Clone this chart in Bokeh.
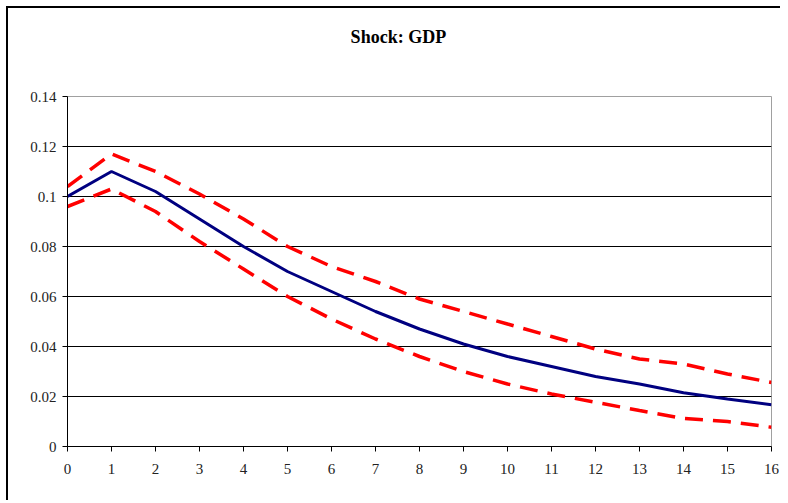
from bokeh.plotting import figure
from bokeh.models import FixedTicker, Range1d, Label
from bokeh.layouts import column
from bokeh.embed import file_html
from bokeh.resources import INLINE

periods = list(range(17))
response = [0.100, 0.110, 0.102, 0.091, 0.080, 0.070, 0.062, 0.054, 0.047,
            0.041, 0.036, 0.032, 0.028, 0.025, 0.0215, 0.019, 0.0167]
upper = [0.104, 0.117, 0.110, 0.101, 0.091, 0.080, 0.072, 0.066, 0.059,
         0.054, 0.049, 0.044, 0.039, 0.035, 0.033, 0.029, 0.0256]
lower = [0.096, 0.103, 0.094, 0.082, 0.071, 0.060, 0.051, 0.043, 0.036,
         0.030, 0.025, 0.021, 0.0177, 0.0144, 0.0112, 0.0100, 0.0077]
y_ticks = [0, 0.02, 0.04, 0.06, 0.08, 0.1, 0.12, 0.14]
y_tick_labels = {0: "0", 0.02: "0.02", 0.04: "0.04", 0.06: "0.06", 0.08: "0.08",
                 0.1: "0.1", 0.12: "0.12", 0.14: "0.14"}
title_text = "Shock: GDP"

FONT = "Liberation Serif"

# Title strip
head = figure(width=772, height=80, min_border=0,
              min_border_left=0, min_border_right=0,
              min_border_top=0, min_border_bottom=0,
              x_range=Range1d(0, 1), y_range=Range1d(0, 1),
              output_backend="svg", toolbar_location=None)
head.axis.visible = False
head.grid.visible = False
head.outline_line_color = None
head.add_layout(Label(x=0.47, y=0.65, text=title_text,
                      text_font=FONT, text_font_size="18px", text_font_style="bold",
                      text_color="black", text_align="center", text_baseline="middle"))

p = figure(frame_width=704, frame_height=350,
           min_border_left=59, min_border_right=9,
           min_border_top=8, min_border_bottom=54,
           x_range=Range1d(0, 16), y_range=Range1d(0, 0.14),
           output_backend="svg", toolbar_location=None)

p.outline_line_color = "#a0a0a0"
p.outline_line_width = 1
p.background_fill_color = "white"
p.border_fill_color = "white"

p.xgrid.visible = False
p.ygrid.ticker = FixedTicker(ticks=[0.02, 0.04, 0.06, 0.08, 0.1, 0.12])
p.ygrid.grid_line_color = "black"
p.ygrid.grid_line_width = 1

p.xaxis.ticker = FixedTicker(ticks=periods)
p.yaxis.ticker = FixedTicker(ticks=y_ticks)
p.yaxis.major_label_overrides = y_tick_labels

for ax in (p.xaxis[0], p.yaxis[0]):
    ax.axis_line_color = "black"
    ax.axis_line_width = 1
    ax.major_tick_line_color = "black"
    ax.major_tick_in = 0
    ax.major_tick_out = 5
    ax.minor_tick_line_color = None
    ax.major_label_text_font = FONT
    ax.major_label_text_font_size = "15px"
    ax.major_label_text_color = "#222222"
p.xaxis.major_label_standoff = 12
p.yaxis.major_label_standoff = 6

p.line(periods, upper, line_color="#ff0000", line_width=3.5, line_dash="18 10")
p.line(periods, lower, line_color="#ff0000", line_width=3.5, line_dash="18 10")
p.line(periods, response, line_color="#000080", line_width=3)

layout = column(head, p, spacing=0,
                styles={"margin-left": "6px", "margin-top": "6px",
                        "border-left": "2px solid black", "border-top": "2px solid black"})

open("out.html", "w").write(file_html(layout, INLINE))
